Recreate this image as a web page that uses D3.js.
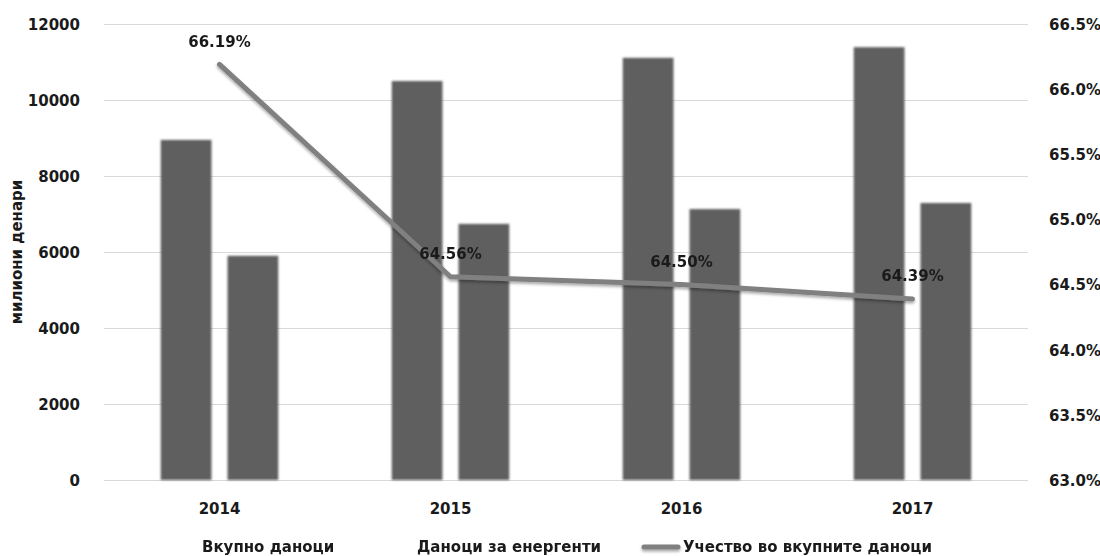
<!DOCTYPE html>
<html lang="mk">
<head>
<meta charset="UTF-8">
<title>Даноци за енергенти</title>
<script src="https://d3js.org/d3.v7.min.js"></script>
<style>
    body { margin: 0; background: #fff; }
    svg { font-family: 'DejaVu Sans', sans-serif; font-weight: bold; }
    .grid line { stroke: #d9d9d9; stroke-width: 1px; }
    .label { font-size: 15px; fill: #1a1a1a; }
</style>
</head>
<body>
<script>
// values
const years = ["2014", "2015", "2016", "2017"];
const seriesNames = ["Вкупно даноци", "Даноци за енергенти"];
const totalTaxes = [8950, 10500, 11110, 11390];
const energyTaxes = [5900, 6740, 7130, 7290];
const share = [66.19, 64.56, 64.50, 64.39];
const shareLabels = ["66.19%", "64.56%", "64.50%", "64.39%"];
const lineName = "Учество во вкупните даноци";
const leftTicks = [0, 2000, 4000, 6000, 8000, 10000, 12000];
const rightTicks = [63.0, 63.5, 64.0, 64.5, 65.0, 65.5, 66.0, 66.5];

const W = 1100, H = 556;
const plot = { left: 104, right: 1028, top: 24, bottom: 480 };

const svg = d3.select("body").append("svg")
    .attr("width", W)
    .attr("height", H);

const defs = svg.append("defs");
const blur = defs.append("filter").attr("id", "soft")
    .attr("x", "-20%").attr("y", "-5%").attr("width", "140%").attr("height", "110%");
blur.append("feGaussianBlur").attr("stdDeviation", 1.1);

const shadow = defs.append("filter").attr("id", "shadow")
    .attr("filterUnits", "userSpaceOnUse")
    .attr("x", 0).attr("y", 0).attr("width", W).attr("height", H);
shadow.append("feDropShadow")
    .attr("dx", 0).attr("dy", 2).attr("stdDeviation", 1.5)
    .attr("flood-color", "#000").attr("flood-opacity", 0.35);

const x = d3.scaleBand().domain(years).range([plot.left, plot.right]);
const x1 = d3.scaleBand().domain(seriesNames)
    .range([0, x.bandwidth()])
    .paddingInner(0.24)
    .paddingOuter(0.85);

const y = d3.scaleLinear().domain([0, 12000]).range([plot.bottom, plot.top]);
const y2 = d3.scaleLinear().domain([63, 66.5]).range([plot.bottom, plot.top]);

function styleAxis(g) {
    g.select(".domain").remove();
    g.attr("font-family", "'DejaVu Sans', sans-serif").attr("font-size", 15);
    g.selectAll("text").attr("dy", "0.36em").attr("fill", "#1a1a1a");
}

// gridlines
svg.append("g")
    .attr("class", "grid")
    .attr("transform", `translate(${plot.left},0)`)
    .call(d3.axisLeft(y).tickValues(leftTicks).tickSize(-(plot.right - plot.left)).tickFormat(""))
    .call(g => g.select(".domain").remove());

// left axis
svg.append("g")
    .attr("transform", `translate(${plot.left - 21},0)`)
    .call(d3.axisLeft(y).tickValues(leftTicks).tickSize(0).tickFormat(d3.format("d")))
    .call(styleAxis);

// right axis
svg.append("g")
    .attr("transform", `translate(${plot.right + 18},0)`)
    .call(d3.axisRight(y2).tickValues(rightTicks).tickSize(0).tickFormat(d => d.toFixed(1) + "%"))
    .call(styleAxis);

// x axis labels
svg.append("g")
    .attr("transform", `translate(0,${plot.bottom + 26})`)
    .call(d3.axisBottom(x).tickSize(0))
    .call(styleAxis);

// y title
svg.append("text")
    .attr("transform", `translate(22,${(plot.top + plot.bottom) / 2}) rotate(-90)`)
    .attr("text-anchor", "middle")
    .attr("font-size", 15)
    .attr("fill", "#1a1a1a")
    .text("милиони денари");

// bars
const rows = years.map((yr, i) => ({ year: yr, values: [totalTaxes[i], energyTaxes[i]] }));
svg.append("g")
    .attr("filter", "url(#soft)")
    .selectAll("g")
    .data(rows)
    .join("g")
    .attr("transform", d => `translate(${x(d.year)},0)`)
    .selectAll("rect")
    .data(d => d.values.map((v, j) => ({ key: seriesNames[j], v })))
    .join("rect")
    .attr("x", d => x1(d.key))
    .attr("width", x1.bandwidth())
    .attr("y", d => y(d.v))
    .attr("height", d => y(0) - y(d.v))
    .attr("fill", "#5f5f5f");

// line
const pts = years.map((yr, i) => ({ year: yr, v: share[i], label: shareLabels[i] }));
const line = d3.line()
    .x(d => x(d.year) + x.bandwidth() / 2)
    .y(d => y2(d.v));

svg.append("path")
    .datum(pts)
    .attr("d", line)
    .attr("fill", "none")
    .attr("stroke", "#808080")
    .attr("stroke-width", 5)
    .attr("stroke-linecap", "round")
    .attr("stroke-linejoin", "round")
    .attr("filter", "url(#shadow)");

svg.append("g")
    .selectAll("text")
    .data(pts)
    .join("text")
    .attr("class", "label")
    .attr("x", d => x(d.year) + x.bandwidth() / 2)
    .attr("y", d => y2(d.v) - 23)
    .attr("dy", "0.36em")
    .attr("text-anchor", "middle")
    .text(d => d.label);

// legend
const legY = 547;
const legend = svg.append("g").attr("font-size", 15).attr("fill", "#1a1a1a");
legend.append("text").attr("x", 202).attr("y", legY).attr("dy", "0.36em").text(seriesNames[0]);
legend.append("text").attr("x", 417).attr("y", legY).attr("dy", "0.36em").text(seriesNames[1]);
legend.append("line")
    .attr("x1", 644).attr("x2", 678)
    .attr("y1", legY).attr("y2", legY)
    .attr("stroke", "#808080").attr("stroke-width", 5)
    .attr("stroke-linecap", "round")
    .attr("filter", "url(#shadow)");
legend.append("text").attr("x", 683).attr("y", legY).attr("dy", "0.36em").text(lineName);
</script>
</body>
</html>
